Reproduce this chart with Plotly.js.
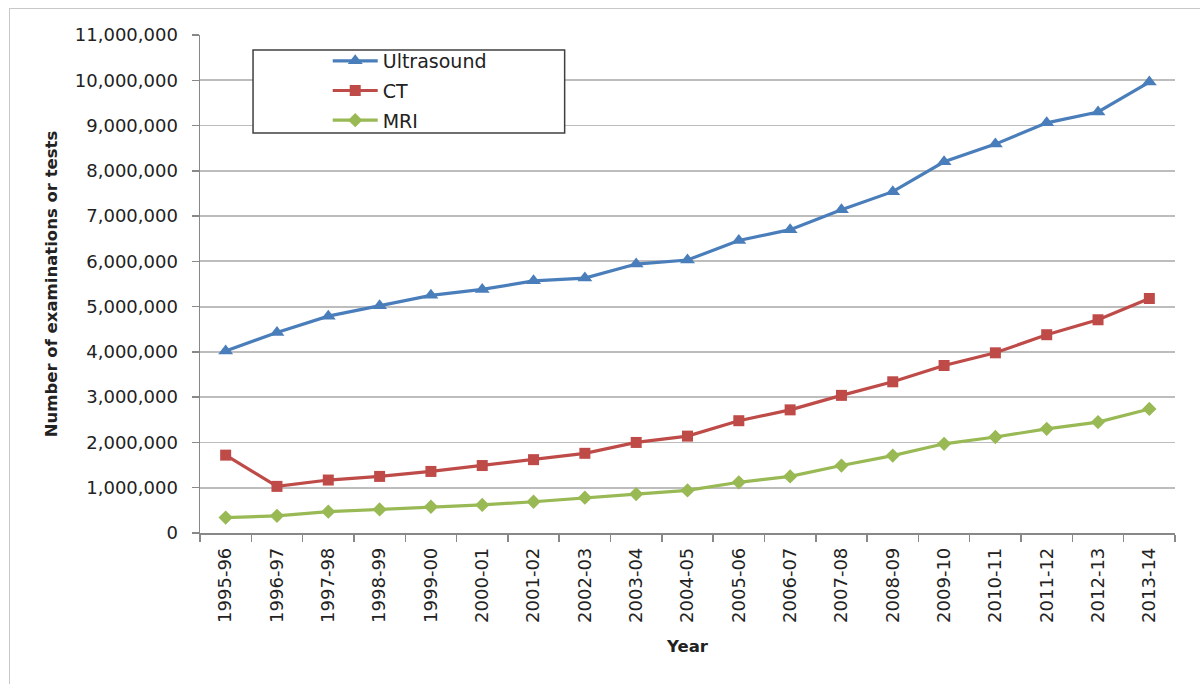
<!DOCTYPE html>
<html>
<head>
<meta charset="utf-8">
<script src="https://cdn.plot.ly/plotly-3.0.1.min.js"></script>
<style>
html,body{margin:0;padding:0;background:#fff;}
#frame{position:absolute;left:9px;top:8px;width:1300px;height:700px;border:1.5px solid #c8c8c8;box-sizing:border-box;}
#chart{position:absolute;left:0;top:0;width:1200px;height:684px;}
</style>
</head>
<body>
<div id="frame"></div>
<div id="chart"></div>
<script>
const years = ["1995-96","1996-97","1997-98","1998-99","1999-00","2000-01","2001-02","2002-03","2003-04","2004-05","2005-06","2006-07","2007-08","2008-09","2009-10","2010-11","2011-12","2012-13","2013-14"];
const ultrasound = [4020000,4430000,4790000,5020000,5250000,5380000,5570000,5630000,5940000,6030000,6460000,6700000,7140000,7540000,8200000,8590000,9060000,9300000,9960000];
const ct = [1720000,1030000,1170000,1250000,1360000,1490000,1620000,1760000,2000000,2140000,2480000,2720000,3040000,3340000,3700000,3980000,4380000,4710000,5180000];
const mri = [340000,380000,470000,520000,580000,620000,690000,780000,860000,940000,1120000,1250000,1490000,1710000,1970000,2120000,2300000,2450000,2740000];
const yTicks = [0,1000000,2000000,3000000,4000000,5000000,6000000,7000000,8000000,9000000,10000000,11000000];

const traces = [
  {x: years, y: ultrasound, name: "Ultrasound", legendgroup: "a", type: "scatter", mode: "lines+markers",
   line: {color: "#4a7ebb", width: 3.2}, marker: {symbol: "triangle-up", size: 13, color: "#4a7ebb"}},
  {x: years, y: ct, name: "CT", legendgroup: "b", type: "scatter", mode: "lines+markers",
   line: {color: "#be4b48", width: 3.2}, marker: {symbol: "square", size: 11, color: "#be4b48"}},
  {x: years, y: mri, name: "MRI", legendgroup: "c", type: "scatter", mode: "lines+markers",
   line: {color: "#98b954", width: 3.2}, marker: {symbol: "diamond", size: 11, color: "#98b954"}}
];

const layout = {
  width: 1200, height: 684,
  paper_bgcolor: "rgba(0,0,0,0)", plot_bgcolor: "rgba(0,0,0,0)",
  margin: {l: 200, r: 25, t: 35, b: 151},
  showlegend: true,
  legend: {x: 0.131, y: 0.986, xanchor: "left", yanchor: "top",
    borderwidth: 0, bgcolor: "rgba(0,0,0,0)",
    font: {family: "'DejaVu Sans', sans-serif", size: 19, color: "#222"},
    itemwidth: 45, tracegroupgap: 2},
  shapes: [{type: "rect", xref: "paper", yref: "paper", x0: 0.0544, x1: 0.374, y0: 0.803, y1: 0.970,
    line: {color: "#404040", width: 1.5}, fillcolor: "#ffffff", layer: "above"}],
  xaxis: {
    type: "category", range: [-0.5, 18.5],
    tickson: "boundaries", ticks: "outside", ticklen: 7, tickcolor: "#888", tickwidth: 1.5,
    showline: true, linecolor: "#888", linewidth: 1.5, showgrid: false,
    tickangle: -90, ticklabelstandoff: 6,
    tickfont: {family: "'DejaVu Sans', sans-serif", size: 18, color: "#222"},
    title: {text: "<b>Year</b>", font: {family: "'DejaVu Sans', sans-serif", size: 16.5, color: "#222"}, standoff: 18}
  },
  yaxis: {
    range: [0, 11000000], tickvals: yTicks,
    tickformat: ",d", ticks: "outside", ticklen: 7, tickcolor: "#888", tickwidth: 1.5,
    showline: true, linecolor: "#888", linewidth: 1.5, ticklabelstandoff: 10,
    showgrid: true, gridcolor: "#bdbdbd", gridwidth: 1.8, zeroline: false,
    tickfont: {family: "'DejaVu Sans', sans-serif", size: 18, color: "#222"},
    title: {text: "<b>Number of examinations or tests</b>", font: {family: "'DejaVu Sans', sans-serif", size: 16.5, color: "#222"}, standoff: 13}
  }
};

Plotly.newPlot("chart", traces, layout, {displayModeBar: false, staticPlot: true});
</script>
</body>
</html>
